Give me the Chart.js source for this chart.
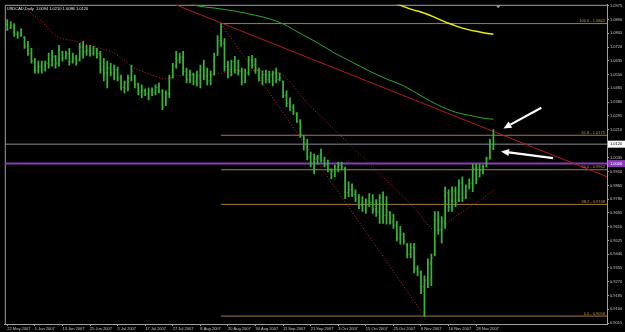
<!DOCTYPE html>
<html>
<head>
<meta charset="utf-8">
<script src="https://cdn.jsdelivr.net/npm/chart.js@4.4.1/dist/chart.umd.min.js"></script>
<style>
  html, body { margin: 0; padding: 0; background: #000; }
  canvas { display: block; }
</style>
</head>
<body>
<canvas id="chart" width="625" height="332"></canvas>
<script>
// USDCAD daily bars, 22 May 2007 .. 5 Dec 2007 (bar index = position in array)
const symbol = 'USDCAD';
const period = 'Daily';

const highs = [
  1.0889,1.0877,1.0865,1.0816,1.0834,1.0785,1.0755,1.0712,1.0651,1.0633,
  1.0633,1.0633,1.0682,1.0700,1.0669,1.0730,1.0694,1.0694,1.0712,1.0682,
  1.0669,1.0743,1.0755,1.0730,1.0730,1.0724,1.0712,1.0694,1.0651,1.0633,
  1.0620,1.0608,1.0596,1.0547,1.0510,1.0547,1.0608,1.0547,1.0498,1.0486,
  1.0462,1.0468,1.0468,1.0486,1.0498,1.0455,1.0449,1.0547,1.0620,1.0694,
  1.0682,1.0694,1.0590,1.0578,1.0559,1.0571,1.0608,1.0639,1.0590,1.0571,
  1.0682,1.0791,1.0865,1.0773,1.0633,1.0639,1.0663,1.0639,1.0590,1.0584,
  1.0663,1.0669,1.0651,1.0590,1.0571,1.0578,1.0571,1.0571,1.0590,1.0559,
  1.0510,1.0449,1.0407,1.0364,1.0315,1.0272,1.0174,1.0150,1.0071,1.0058,
  1.0052,1.0089,1.0040,1.0022,0.9967,0.9991,1.0009,1.0009,0.9979,0.9887,
  0.9875,0.9838,0.9808,0.9796,0.9783,0.9814,0.9808,0.9777,0.9808,0.9826,
  0.9796,0.9704,0.9686,0.9643,0.9612,0.9570,0.9508,0.9508,0.9508,0.9368,
  0.9337,0.9307,0.9411,0.9441,0.9704,0.9704,0.9673,0.9857,0.9838,0.9857,
  0.9857,0.9899,0.9918,0.9869,0.9906,0.9997,0.9997,0.9997,0.9991,1.0040,
  1.0150,1.0210
];
const lows = [
  1.0822,1.0834,1.0785,1.0773,1.0785,1.0712,1.0669,1.0620,1.0559,1.0559,
  1.0559,1.0571,1.0590,1.0602,1.0590,1.0602,1.0633,1.0645,1.0608,1.0620,
  1.0608,1.0633,1.0651,1.0669,1.0663,1.0669,1.0651,1.0559,1.0510,1.0468,
  1.0541,1.0517,1.0510,1.0455,1.0437,1.0449,1.0510,1.0468,1.0425,1.0407,
  1.0419,1.0394,1.0419,1.0425,1.0437,1.0333,1.0358,1.0407,1.0529,1.0590,
  1.0620,1.0547,1.0498,1.0498,1.0486,1.0480,1.0468,1.0517,1.0486,1.0486,
  1.0547,1.0669,1.0724,1.0571,1.0529,1.0541,1.0559,1.0547,1.0486,1.0498,
  1.0547,1.0590,1.0559,1.0510,1.0486,1.0498,1.0498,1.0480,1.0498,1.0510,
  1.0407,1.0352,1.0327,1.0303,1.0254,1.0162,1.0083,1.0022,0.9979,0.9936,
  0.9997,1.0009,0.9979,0.9948,0.9906,0.9918,0.9948,0.9961,0.9783,0.9796,
  0.9796,0.9765,0.9722,0.9704,0.9692,0.9734,0.9692,0.9673,0.9631,0.9631,
  0.9625,0.9625,0.9600,0.9521,0.9502,0.9502,0.9417,0.9417,0.9325,0.9307,
  0.9197,0.9056,0.9234,0.9246,0.9429,0.9563,0.9508,0.9600,0.9704,0.9704,
  0.9734,0.9765,0.9765,0.9783,0.9844,0.9826,0.9875,0.9918,0.9936,0.9979,
  1.0028,1.0086
];
const opens = [
  1.0860,1.0840,1.0850,1.0800,1.0790,1.0780,1.0725,1.0680,1.0635,1.0575,
  1.0600,1.0580,1.0620,1.0610,1.0660,1.0620,1.0690,1.0650,1.0680,1.0630,
  1.0650,1.0640,1.0720,1.0690,1.0700,1.0680,1.0710,1.0680,1.0580,1.0560,
  1.0590,1.0560,1.0580,1.0530,1.0470,1.0500,1.0530,1.0540,1.0490,1.0440,
  1.0450,1.0430,1.0450,1.0440,1.0470,1.0450,1.0360,1.0430,1.0530,1.0600,
  1.0640,1.0660,1.0570,1.0520,1.0550,1.0510,1.0540,1.0590,1.0540,1.0510,
  1.0550,1.0670,1.0760,1.0740,1.0600,1.0580,1.0630,1.0580,1.0570,1.0500,
  1.0560,1.0640,1.0610,1.0580,1.0530,1.0550,1.0520,1.0550,1.0560,1.0520,
  1.0510,1.0420,1.0370,1.0350,1.0310,1.0260,1.0170,1.0120,1.0040,1.0000,
  1.0030,1.0040,1.0020,0.9990,0.9960,0.9950,0.9980,0.9990,0.9970,0.9820,
  0.9840,0.9810,0.9780,0.9740,0.9750,0.9770,0.9760,0.9720,0.9700,0.9790,
  0.9680,0.9700,0.9640,0.9620,0.9540,0.9560,0.9500,0.9440,0.9480,0.9350,
  0.9330,0.9240,0.9280,0.9380,0.9440,0.9650,0.9590,0.9640,0.9820,0.9730,
  0.9830,0.9770,0.9880,0.9790,0.9860,0.9880,0.9970,0.9920,0.9960,0.9980,
  1.0030,1.0094
];
const closes = [
  1.0830,1.0850,1.0800,1.0790,1.0800,1.0725,1.0680,1.0635,1.0575,1.0600,
  1.0580,1.0620,1.0610,1.0660,1.0620,1.0700,1.0650,1.0680,1.0630,1.0650,
  1.0640,1.0720,1.0690,1.0700,1.0680,1.0710,1.0680,1.0580,1.0560,1.0590,
  1.0560,1.0580,1.0530,1.0470,1.0500,1.0530,1.0570,1.0490,1.0440,1.0450,
  1.0430,1.0450,1.0440,1.0470,1.0450,1.0350,1.0430,1.0530,1.0600,1.0640,
  1.0660,1.0570,1.0520,1.0550,1.0510,1.0540,1.0590,1.0540,1.0510,1.0540,
  1.0660,1.0760,1.0740,1.0600,1.0580,1.0630,1.0580,1.0570,1.0500,1.0560,
  1.0640,1.0610,1.0580,1.0530,1.0550,1.0520,1.0550,1.0560,1.0520,1.0530,
  1.0420,1.0370,1.0350,1.0320,1.0260,1.0180,1.0120,1.0040,1.0000,1.0030,
  1.0040,1.0020,0.9990,0.9960,0.9950,0.9980,0.9990,0.9980,0.9820,0.9840,
  0.9810,0.9780,0.9740,0.9750,0.9770,0.9760,0.9720,0.9700,0.9790,0.9680,
  0.9700,0.9640,0.9620,0.9540,0.9560,0.9520,0.9440,0.9480,0.9350,0.9330,
  0.9240,0.9280,0.9380,0.9420,0.9650,0.9590,0.9640,0.9820,0.9730,0.9830,
  0.9760,0.9880,0.9790,0.9860,0.9880,0.9970,0.9900,0.9960,0.9980,1.0030,
  1.0100,1.0120
];

// moving averages, read at a few bars each
const maRedIdx = [6,10,14,20,25,31,37,42,46,49,53,57,62,69,75,79,82,85,88,92,98,104,110,115,118,121,123,125,127,130,133,137,141];
const maRedVal = [1.0944,1.0877,1.0791,1.0755,1.0724,1.0682,1.0590,1.0547,1.0523,1.0541,1.0547,1.0547,1.0559,1.0578,1.0571,1.0559,1.0504,1.0425,1.0352,1.0270,1.0145,1.0020,0.9895,0.9792,0.9729,0.9649,0.9600,0.9588,0.9624,0.9673,0.9716,0.9771,0.9838];
const maGreenIdx = [52,55,60,66,72,76,80,85,90,95,100,105,110,115,120,125,130,135,138,141];
const maGreenVal = [1.0993,1.0975,1.0961,1.0942,1.0916,1.0895,1.0863,1.0804,1.0746,1.0682,1.0627,1.0572,1.0523,1.0480,1.0419,1.0361,1.0318,1.0294,1.0281,1.0274];
const maYellowIdx = [112,114,116,118,120,122,124,126,128,130,132,134,136,138,141];
const maYellowVal = [1.0994,1.0978,1.0962,1.0948,1.0936,1.0921,1.0903,1.0885,1.0867,1.0851,1.0837,1.0826,1.0817,1.0809,1.0799];

// drawn objects
const trendIdx = [40, 173.95];
const trendPrice = [1.1056, 0.9919];
const fibAnchorIdx = [62, 121];
const fibAnchorPrice = [1.0865, 0.9058];
const fibNames = ['100.0', '61.8', '50.0', '38.2', '0.0'];
const fibPrices = [1.0865, 1.0175, 0.9962, 0.9748, 0.9058];
const parityLevel = 1.0000;

// axes
const dateIdx = [0,8,16,24,32,40,48,56,64,72,80,88,96,104,112,120,128,136];
const dateLabels = ['22 May 2007','1 Jun 2007','13 Jun 2007','25 Jun 2007','5 Jul 2007','17 Jul 2007',
  '27 Jul 2007','8 Aug 2007','20 Aug 2007','30 Aug 2007','11 Sep 2007','21 Sep 2007','3 Oct 2007',
  '15 Oct 2007','25 Oct 2007','6 Nov 2007','16 Nov 2007','28 Nov 2007'];
const yTickLabels = ['0.9015','0.9100','0.9185','0.9270','0.9355','0.9440','0.9525','0.9610','0.9695',
  '0.9780','0.9865','0.9950','1.0035','1.0210','1.0295','1.0380','1.0465','1.0550','1.0635','1.0720',
  '1.0805','1.0890','1.0975'];

const X_MIN = -0.72, X_MAX = 173.95;
const Y_MIN = 0.9009, Y_MAX = 1.0981;
const GRAY = '#a0a0a0';
const BAR_GREEN = '#36b436';
const FONT = { family: 'Liberation Sans', size: 4, lineHeight: 1 };

const last = closes.length - 1;
const pairs = (xs, ys) => xs.map((x, i) => ({ x, y: ys[i] }));
const hline = (p) => [{ x: X_MIN, y: p }, { x: X_MAX, y: p }];

const datasets = [
  {
    type: 'bar',
    label: 'hl',
    data: highs.map((h, i) => ({ x: i, y: [lows[i], h] })),
    backgroundColor: BAR_GREEN,
    barThickness: 1.1,
    borderWidth: 0,
    order: 1
  },
  {
    type: 'line', label: 'open', showLine: false,
    data: opens.map((o, i) => ({ x: i, y: o })),
    pointStyle: 'dash', pointRotation: 180, pointRadius: 1.3,
    pointBorderColor: BAR_GREEN, pointBackgroundColor: BAR_GREEN, pointBorderWidth: 0.8,
    order: 1
  },
  {
    type: 'line', label: 'close', showLine: false,
    data: closes.map((c, i) => ({ x: i, y: c })),
    pointStyle: 'dash', pointRotation: 0, pointRadius: 1.3,
    pointBorderColor: BAR_GREEN, pointBackgroundColor: BAR_GREEN, pointBorderWidth: 0.8,
    order: 1
  },
  {
    type: 'line', label: 'trend', data: pairs(trendIdx, trendPrice),
    borderColor: '#b01c1c', borderWidth: 1, pointRadius: 0, order: 3
  },
  {
    type: 'line', label: 'fibline', data: pairs(fibAnchorIdx, fibAnchorPrice),
    borderColor: '#c03030', borderWidth: 1, borderDash: [1, 2], pointRadius: 0, order: 3
  },
  {
    type: 'line', label: 'maRed', data: pairs(maRedIdx, maRedVal),
    borderColor: '#c02828', borderWidth: 1, borderDash: [1, 2], pointRadius: 0,
    cubicInterpolationMode: 'monotone', order: 5
  },
  {
    type: 'line', label: 'maGreen', data: pairs(maGreenIdx, maGreenVal),
    borderColor: '#2ea82e', borderWidth: 1, pointRadius: 0,
    cubicInterpolationMode: 'monotone', order: 5
  },
  {
    type: 'line', label: 'maYellow', data: pairs(maYellowIdx, maYellowVal),
    borderColor: '#f0f000', borderWidth: 1.5, pointRadius: 0,
    cubicInterpolationMode: 'monotone', order: 5
  },
  {
    type: 'line', label: 'bid', data: hline(closes[last]),
    borderColor: '#8c8c96', borderWidth: 1, pointRadius: 0, order: 10
  },
  {
    type: 'line', label: 'parity', data: hline(parityLevel),
    borderColor: '#8a3cb8', borderWidth: 2, pointRadius: 0, order: 10
  }
];

fibPrices.forEach((p, k) => {
  datasets.push({
    type: 'line', label: 'fib' + fibNames[k],
    data: [{ x: fibAnchorIdx[0], y: p }, { x: X_MAX, y: p }],
    borderColor: '#a57a3c', borderWidth: 1, pointRadius: 0, order: 9
  });
});

// arrows drawn on the chart (bar index, price)
const arrows = [
  { from: [154.9, 1.0345], to: [143.9, 1.0217] },
  { from: [158.3, 1.0034], to: [143.2, 1.0075] }
];

const overlay = {
  id: 'overlay',
  beforeDatasetsDraw(chart) {
    const { ctx, chartArea: a } = chart;
    ctx.save();
    ctx.strokeStyle = GRAY;
    ctx.lineWidth = 1;
    ctx.beginPath();
    ctx.moveTo(a.left + 0.5, a.bottom);
    ctx.lineTo(a.left + 0.5, a.top + 0.5);
    ctx.lineTo(a.right, a.top + 0.5);
    ctx.stroke();
    ctx.restore();
  },
  afterDatasetsDraw(chart) {
    const { ctx, chartArea: a, scales: { x, y } } = chart;
    ctx.save();
    ctx.font = '4px "Liberation Sans"';

    // fibo level labels
    ctx.fillStyle = '#c8963c';
    ctx.textAlign = 'right';
    ctx.textBaseline = 'bottom';
    fibPrices.forEach((p, k) => {
      ctx.fillText(fibNames[k] + ' - ' + p.toFixed(4), a.right - 2, y.getPixelForValue(p) - 0.5);
    });

    // header
    ctx.fillStyle = '#e8e8e8';
    ctx.textAlign = 'left';
    ctx.textBaseline = 'top';
    ctx.fillText(symbol + ',' + period + '  ' + [opens[last], highs[last], lows[last], closes[last]]
      .map(v => v.toFixed(4)).join(' '), a.left + 2, a.top + 2);

    // white arrows
    ctx.strokeStyle = '#ffffff';
    ctx.fillStyle = '#ffffff';
    ctx.lineWidth = 2.2;
    arrows.forEach(ar => {
      const x0 = x.getPixelForValue(ar.from[0]), y0 = y.getPixelForValue(ar.from[1]);
      const x1 = x.getPixelForValue(ar.to[0]), y1 = y.getPixelForValue(ar.to[1]);
      const ang = Math.atan2(y1 - y0, x1 - x0);
      const hl = 8, hw = 3.5;
      const bx = x1 - Math.cos(ang) * hl, by = y1 - Math.sin(ang) * hl;
      ctx.beginPath();
      ctx.moveTo(x0, y0);
      ctx.lineTo(bx, by);
      ctx.stroke();
      ctx.beginPath();
      ctx.moveTo(x1, y1);
      ctx.lineTo(bx + Math.sin(ang) * hw, by - Math.cos(ang) * hw);
      ctx.lineTo(bx - Math.sin(ang) * hw, by + Math.cos(ang) * hw);
      ctx.closePath();
      ctx.fill();
    });

    // chart shift marker at the top
    const mx = x.getPixelForValue(last + 1.4);
    ctx.fillStyle = '#9aa6b8';
    ctx.beginPath();
    ctx.moveTo(mx - 2, a.top + 1);
    ctx.lineTo(mx + 2, a.top + 1);
    ctx.lineTo(mx, a.top + 3.5);
    ctx.closePath();
    ctx.fill();
    ctx.restore();
  },
  afterDraw(chart) {
    const { ctx, chartArea: a, scales: { y } } = chart;
    ctx.save();
    ctx.font = '4px "Liberation Sans"';
    ctx.textAlign = 'left';
    ctx.textBaseline = 'middle';
    const box = (p, bg, fg) => {
      const py = y.getPixelForValue(p);
      ctx.fillStyle = bg;
      ctx.fillRect(a.right + 1, py - 3.5, 17, 7);
      ctx.fillStyle = fg;
      ctx.fillText(p.toFixed(4), a.right + 3, py);
    };
    box(closes[last], '#ffffff', '#000000');
    box(parityLevel, '#8a3cb8', '#ffffff');
    ctx.restore();
  }
};

new Chart(document.getElementById('chart'), {
  type: 'bar',
  data: { datasets },
  plugins: [overlay],
  options: {
    responsive: false,
    animation: false,
    events: [],
    devicePixelRatio: 1,
    layout: { padding: { left: 1, top: 1, right: 0, bottom: 0 } },
    plugins: { legend: { display: false }, tooltip: { enabled: false } },
    scales: {
      x: {
        type: 'linear',
        offset: false,
        min: X_MIN,
        max: X_MAX,
        afterBuildTicks: s => { s.ticks = dateIdx.map(v => ({ value: v })); },
        afterFit: s => { s.height = 8; s.paddingLeft = 0; s.paddingRight = 0; },
        grid: { display: true, drawOnChartArea: false, drawTicks: true, tickLength: 2, color: GRAY, offset: false },
        border: { display: true, color: GRAY },
        ticks: {
          autoSkip: false, maxRotation: 0, minRotation: 0, align: 'start', padding: 0.5,
          color: '#c8c8c8', font: FONT,
          callback: (v, i) => dateLabels[i]
        }
      },
      y: {
        type: 'linear',
        position: 'right',
        min: Y_MIN,
        max: Y_MAX,
        afterBuildTicks: s => { s.ticks = yTickLabels.map(t => ({ value: parseFloat(t) })); },
        afterFit: s => { s.width = 18; s.paddingTop = 0; s.paddingBottom = 0; },
        grid: { display: true, drawOnChartArea: false, drawTicks: true, tickLength: 2, color: GRAY },
        border: { display: true, color: GRAY },
        ticks: {
          autoSkip: false, padding: 1, color: '#c8c8c8', font: FONT,
          callback: (v, i) => yTickLabels[i]
        }
      }
    }
  }
});
</script>
</body>
</html>
